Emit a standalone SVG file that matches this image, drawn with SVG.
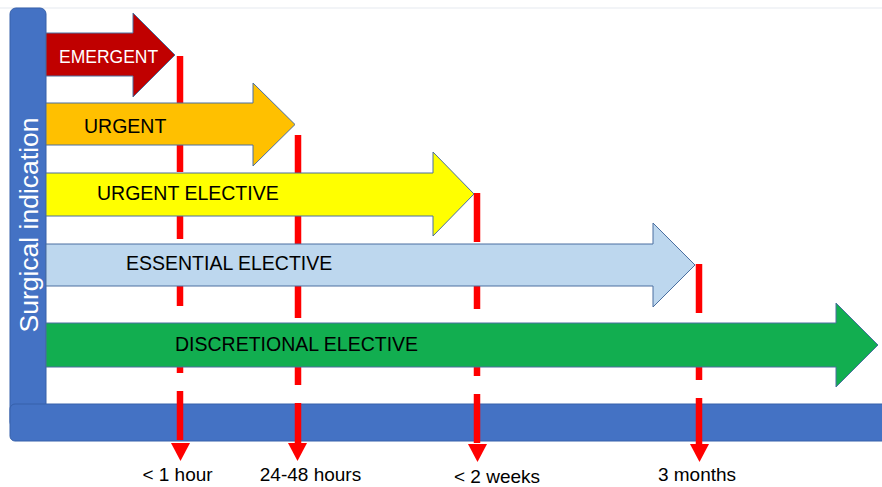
<svg xmlns="http://www.w3.org/2000/svg" width="882" height="487" viewBox="0 0 882 487">
  <style>
    .bar { fill: #4472C4; stroke: #3660AA; stroke-width: 1; }
    .arrow { stroke: #4A6FA0; stroke-width: 1; stroke-linejoin: miter; }
    .lbl { font-family: "Liberation Sans", Arial, sans-serif; font-size: 19.5px; fill: #000000; }
    .tick { font-family: "Liberation Sans", Arial, sans-serif; font-size: 19px; fill: #000000; text-anchor: middle; }
    .dash { stroke: #FF0000; stroke-width: 6.5; stroke-dasharray: 49 18; fill: none; }
    .head { fill: #FF0000; }
  </style>
  <rect width="882" height="487" fill="#FFFFFF"/>
  <line x1="0" y1="8" x2="882" y2="8" stroke="#EEF1F5" stroke-width="1.5"/>

  <g id="axis-vertical">
    <rect class="bar" x="10" y="8" width="36" height="420" rx="6" ry="6"/>
    <text x="38" y="225" transform="rotate(-90 38 225)" text-anchor="middle" font-family="'Liberation Sans', Arial, sans-serif" font-size="26.5px" fill="#FFFFFF">Surgical indication</text>
  </g>
  <g id="axis-horizontal">
    <rect class="bar" x="10" y="404" width="890" height="37" rx="5" ry="5"/>
  </g>

  <g id="connectors">
    <line class="dash" x1="180" y1="56" x2="180" y2="441"/>
    <polygon class="head" points="171,443 190,443 180.5,461"/>
    <line class="dash" x1="298" y1="135" x2="298" y2="443"/>
    <polygon class="head" points="288,443 307,443 297.5,461"/>
    <line class="dash" x1="477" y1="193" x2="477" y2="443"/>
    <polygon class="head" points="468,444 487,444 477.5,462"/>
    <line class="dash" x1="699" y1="264" x2="699" y2="444"/>
    <polygon class="head" points="690,444 709,444 699.5,462"/>
  </g>

  <g id="emergent">
    <path class="arrow" fill="#C00000" d="M46,33 H133 V13 L175,55 L133,97 V76 H46 Z"/>
    <text x="59" y="63" font-family="'Liberation Sans', Arial, sans-serif" font-size="17.5px" fill="#FFFFFF">EMERGENT</text>
  </g>
  <g id="urgent">
    <path class="arrow" fill="#FFC000" d="M46,103 H253 V83 L295,124.5 L253,166 V145 H46 Z"/>
    <text class="lbl" x="84" y="133">URGENT</text>
  </g>
  <g id="urgent-elective">
    <path class="arrow" fill="#FFFF00" d="M46,173 H433 V152 L474,194 L433,236 V216 H46 Z"/>
    <text class="lbl" x="97" y="200">URGENT ELECTIVE</text>
  </g>
  <g id="essential-elective">
    <path class="arrow" fill="#BDD7EE" d="M46,244 H653 V223 L695,265 L653,307 V286 H46 Z"/>
    <text class="lbl" x="126" y="270">ESSENTIAL ELECTIVE</text>
  </g>
  <g id="discretional-elective">
    <path class="arrow" fill="#12AE50" d="M46,323 H836 V303 L878,345 L836,387 V367 H46 Z"/>
    <text class="lbl" x="175" y="351">DISCRETIONAL ELECTIVE</text>
  </g>

  <g id="time-labels">
    <text class="tick" x="177.5" y="481">&lt; 1 hour</text>
    <text class="tick" x="310.5" y="481">24-48 hours</text>
    <text class="tick" x="497" y="483">&lt; 2 weeks</text>
    <text class="tick" x="697" y="481">3 months</text>
  </g>
</svg>
